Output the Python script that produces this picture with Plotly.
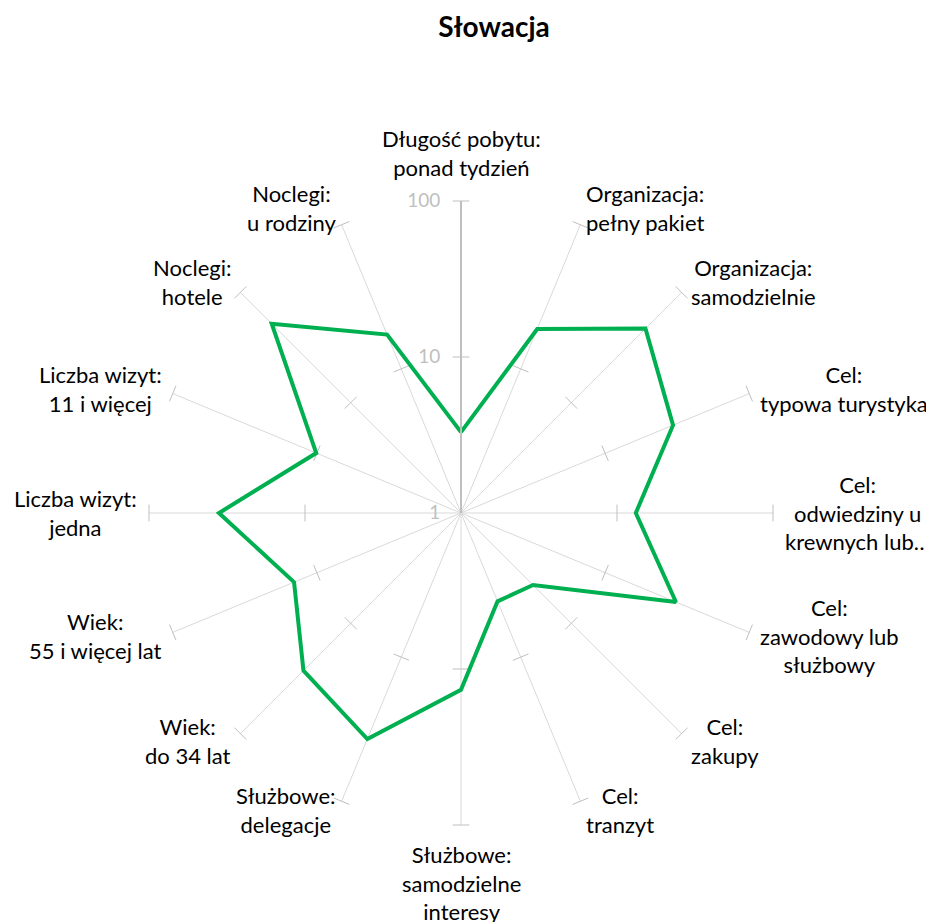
import math
import plotly.graph_objects as go

categories = [
    "Długość pobytu:<br>ponad tydzień",
    "Organizacja:<br>pełny pakiet",
    "Organizacja:<br>samodzielnie",
    "Cel:<br>typowa turystyka",
    "Cel:<br>odwiedziny u<br>krewnych lub…",
    "Cel:<br>zawodowy lub<br>służbowy",
    "Cel:<br>zakupy",
    "Cel:<br>tranzyt",
    "Służbowe:<br>samodzielne<br>interesy",
    "Służbowe:<br>delegacje",
    "Wiek:<br>do 34 lat",
    "Wiek:<br>55 i więcej lat",
    "Liczba wizyt:<br>jedna",
    "Liczba wizyt:<br>11 i więcej",
    "Noclegi:<br>hotele",
    "Noclegi:<br>u rodziny",
]
values = [3.3, 18.9, 47, 29.6, 13.2, 31, 4.5, 4.1, 13.6, 37, 26.8, 14.4, 35.6, 10.1, 52, 17.3]
tick_values = [1, 10, 100]
tick_labels = ["1", "10", "100"]

FONT = "Lato"
W, H = 934, 922
CX, CY, RAD = 453, 505, 312  # polar centre and radius in px

fig = go.Figure()

# small perpendicular tick marks on each spoke
n = len(categories)
tk_theta, tk_r, tk_ang = [], [], []
for i, c in enumerate(categories):
    for tv in tick_values[1:]:
        tk_theta.append(c)
        tk_r.append(tv)
        tk_ang.append(360.0 * i / n)
fig.add_trace(go.Scatterpolar(
    r=tk_r, theta=tk_theta, mode="markers",
    marker=dict(symbol="line-ew", size=12, angle=tk_ang,
                line=dict(color="#bfbfbf", width=1)),
    hoverinfo="skip", showlegend=False,
))

fig.add_trace(go.Scatterpolar(
    r=values + values[:1], theta=categories + categories[:1],
    mode="lines", line=dict(color="#00b050", width=4),
    showlegend=False,
))

# category labels as centred annotations around the circle
annotations = []
for i, c in enumerate(categories):
    a = math.radians(360.0 * i / n)
    s, co = math.sin(a), math.cos(a)
    if abs(s) < 0.2:
        RL = 330 if co > 0 else 326
        xa = "center"
        ya = "bottom" if co > 0 else "top"
        ys = 0
    else:
        RL = 322
        xa = "left" if s > 0 else "right"
        ya = "middle"
        ys = 9 * max(co, 0) ** 3
    px = CX + RL * s
    py = CY - RL * co
    annotations.append(dict(
        text=c, x=px / W, y=1 - py / H, xref="paper", yref="paper",
        xanchor=xa, yanchor=ya, align="center", showarrow=False, yshift=ys,
        font=dict(family=FONT, size=22, color="#000000"),
    ))

fig.update_layout(
    width=W, height=H,
    margin=dict(l=0, r=0, t=0, b=0),
    paper_bgcolor="white",
    font=dict(family=FONT, color="#000000"),
    title=dict(text="<b>Słowacja</b>", x=486 / W, xanchor="center", y=1 - 19 / H, yanchor="middle",
               font=dict(family=FONT, size=28, color="#000000")),
    annotations=annotations,
    polar=dict(
        domain=dict(x=[(CX - RAD) / W, (CX + RAD) / W], y=[1 - (CY + RAD) / H, 1 - (CY - RAD) / H]),
        bgcolor="white",
        radialaxis=dict(
            type="log", range=[0, 2], angle=90, tickangle=90,
            tickvals=tick_values, ticktext=tick_labels,
            tickfont=dict(family=FONT, size=19, color="#bfbfbf"),
            side="counterclockwise",
            showline=True, linecolor="#bfbfbf", linewidth=2,
            ticks="outside", ticklen=13, tickcolor="rgba(0,0,0,0)",
            showgrid=False,
        ),
        angularaxis=dict(
            categoryorder="array", categoryarray=categories,
            rotation=90, direction="clockwise",
            showline=False, showgrid=True, gridcolor="#d9d9d9", gridwidth=1,
            ticks="", showticklabels=False,
        ),
    ),
)

fig.write_html("out.html")
